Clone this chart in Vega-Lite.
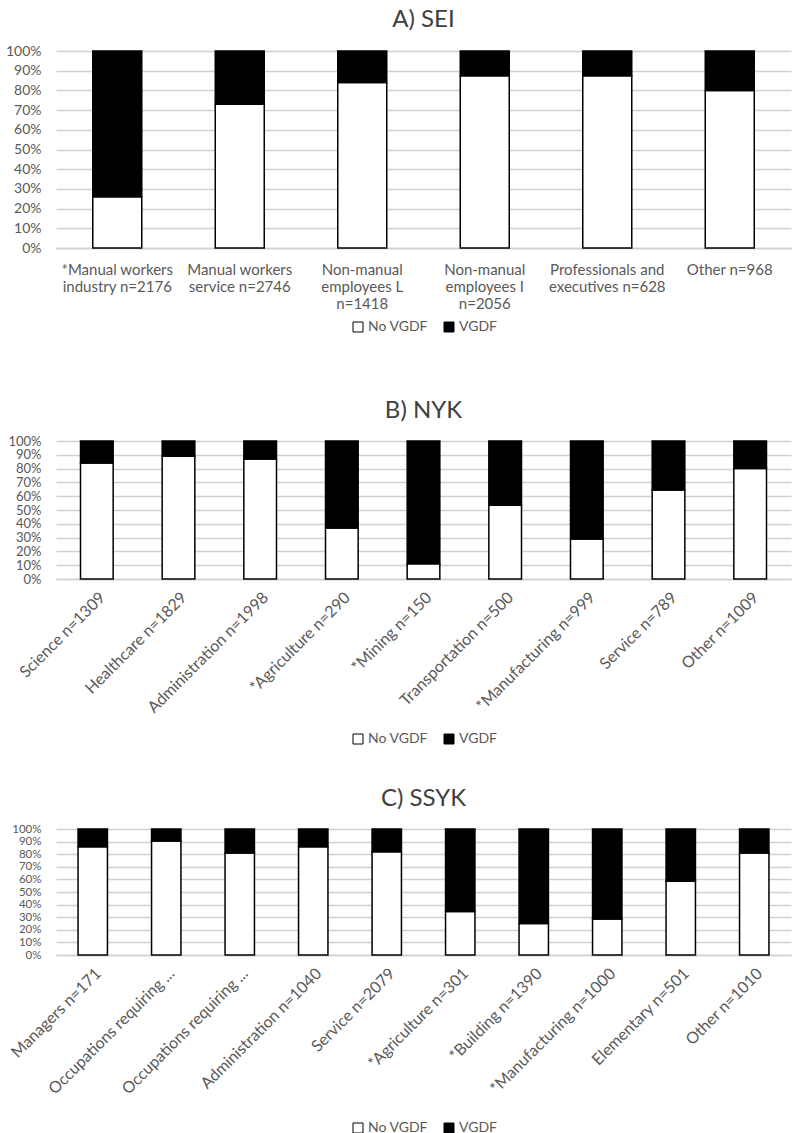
{
  "$schema": "https://vega.github.io/schema/vega-lite/v6.json",
  "background": "white",
  "padding": {"left": 5, "top": 8, "right": 7, "bottom": 3},
  "config": {
    "font": "Lato",
    "view": {"stroke": null},
    "title": {"font": "Lato", "fontSize": 24, "fontWeight": "normal", "color": "#404040", "anchor": "middle", "offset": 12},
    "axis": {"labelFont": "Lato", "labelFontSize": 14, "labelColor": "#595959", "domainColor": "#d0d0d0", "domainWidth": 1.5, "gridColor": "#d0d0d0", "gridWidth": 1.5, "ticks": false, "title": null, "labelOverlap": false},
    "legend": {"orient": "bottom", "direction": "horizontal", "title": null, "symbolType": "square", "symbolSize": 100, "symbolStrokeColor": "black", "symbolStrokeWidth": 1, "labelFont": "Lato", "labelFontSize": 14, "labelColor": "#595959", "columnPadding": 14, "labelOffset": 3, "layout": {"bottom": {"anchor": "middle"}}}
  },
  "datasets": {
    "A": [
      {"cat": "*Manual workers\nindustry n=2176", "status": "No VGDF", "share": 0.26},
      {"cat": "*Manual workers\nindustry n=2176", "status": "VGDF", "share": 0.74},
      {"cat": "Manual workers\nservice  n=2746", "status": "No VGDF", "share": 0.73},
      {"cat": "Manual workers\nservice  n=2746", "status": "VGDF", "share": 0.27},
      {"cat": "Non-manual\nemployees L\nn=1418", "status": "No VGDF", "share": 0.84},
      {"cat": "Non-manual\nemployees L\nn=1418", "status": "VGDF", "share": 0.16},
      {"cat": "Non-manual\nemployees I\nn=2056", "status": "No VGDF", "share": 0.875},
      {"cat": "Non-manual\nemployees I\nn=2056", "status": "VGDF", "share": 0.125},
      {"cat": "Professionals and\nexecutives n=628", "status": "No VGDF", "share": 0.875},
      {"cat": "Professionals and\nexecutives n=628", "status": "VGDF", "share": 0.125},
      {"cat": "Other n=968", "status": "No VGDF", "share": 0.80},
      {"cat": "Other n=968", "status": "VGDF", "share": 0.20}
    ],
    "B": [
      {"cat": "Science n=1309", "status": "No VGDF", "share": 0.84},
      {"cat": "Science n=1309", "status": "VGDF", "share": 0.16},
      {"cat": "Healthcare n=1829", "status": "No VGDF", "share": 0.89},
      {"cat": "Healthcare n=1829", "status": "VGDF", "share": 0.11},
      {"cat": "Administration n=1998", "status": "No VGDF", "share": 0.87},
      {"cat": "Administration n=1998", "status": "VGDF", "share": 0.13},
      {"cat": "*Agriculture n=290", "status": "No VGDF", "share": 0.37},
      {"cat": "*Agriculture n=290", "status": "VGDF", "share": 0.63},
      {"cat": "*Mining n=150", "status": "No VGDF", "share": 0.11},
      {"cat": "*Mining n=150", "status": "VGDF", "share": 0.89},
      {"cat": "Transportation n=500", "status": "No VGDF", "share": 0.535},
      {"cat": "Transportation n=500", "status": "VGDF", "share": 0.465},
      {"cat": "*Manufacturing n=999", "status": "No VGDF", "share": 0.29},
      {"cat": "*Manufacturing n=999", "status": "VGDF", "share": 0.71},
      {"cat": "Service n=789", "status": "No VGDF", "share": 0.645},
      {"cat": "Service n=789", "status": "VGDF", "share": 0.355},
      {"cat": "Other n=1009", "status": "No VGDF", "share": 0.80},
      {"cat": "Other n=1009", "status": "VGDF", "share": 0.20}
    ],
    "C": [
      {"cat": "Managers n=171", "status": "No VGDF", "share": 0.86},
      {"cat": "Managers n=171", "status": "VGDF", "share": 0.14},
      {"cat": "Occupations requiring advanced level of higher education", "status": "No VGDF", "share": 0.905},
      {"cat": "Occupations requiring advanced level of higher education", "status": "VGDF", "share": 0.095},
      {"cat": "Occupations requiring higher education qualifications", "status": "No VGDF", "share": 0.81},
      {"cat": "Occupations requiring higher education qualifications", "status": "VGDF", "share": 0.19},
      {"cat": "Administration n=1040", "status": "No VGDF", "share": 0.86},
      {"cat": "Administration n=1040", "status": "VGDF", "share": 0.14},
      {"cat": "Service n=2079", "status": "No VGDF", "share": 0.82},
      {"cat": "Service n=2079", "status": "VGDF", "share": 0.18},
      {"cat": "*Agriculture n=301", "status": "No VGDF", "share": 0.345},
      {"cat": "*Agriculture n=301", "status": "VGDF", "share": 0.655},
      {"cat": "*Building n=1390", "status": "No VGDF", "share": 0.25},
      {"cat": "*Building n=1390", "status": "VGDF", "share": 0.75},
      {"cat": "*Manufacturing n=1000", "status": "No VGDF", "share": 0.285},
      {"cat": "*Manufacturing n=1000", "status": "VGDF", "share": 0.715},
      {"cat": "Elementary n=501", "status": "No VGDF", "share": 0.585},
      {"cat": "Elementary n=501", "status": "VGDF", "share": 0.415},
      {"cat": "Other n=1010", "status": "No VGDF", "share": 0.81},
      {"cat": "Other n=1010", "status": "VGDF", "share": 0.19}
    ]
  },
  "bounds": "flush",
  "spacing": 193,
  "resolve": {"legend": {"color": "independent"}, "scale": {"color": "independent", "x": "independent"}},
  "vconcat": [
    {
      "title": "A) SEI",
      "data": {"name": "A"},
      "width": 735,
      "height": 197,
      "mark": {"type": "bar", "stroke": "black", "strokeWidth": 1.5},
      "encoding": {
        "x": {"field": "cat", "type": "nominal", "sort": null, "scale": {"paddingInner": 0.6, "paddingOuter": 0.3},
              "axis": {"labelAngle": 0, "labelPadding": 14, "labelFontSize": 15, "labelLineHeight": 17, "labelExpr": "split(datum.label, '\\n')", "labelLimit": 200}},
        "y": {"field": "share", "type": "quantitative", "stack": "zero", "scale": {"domain": [0, 1], "nice": false},
              "axis": {"format": ".0%", "values": [0, 0.1, 0.2, 0.3, 0.4, 0.5, 0.6, 0.7, 0.8, 0.9, 1], "domain": false, "labelPadding": 15, "labelBound": false}},
        "color": {"field": "status", "type": "nominal", "scale": {"domain": ["No VGDF", "VGDF"], "range": ["white", "black"]}, "legend": {"offset": 9}},
        "order": {"field": "status", "sort": "ascending"}
      }
    },
    {
      "bounds": "flush",
      "spacing": 250,
      "resolve": {"legend": {"color": "independent"}, "scale": {"color": "independent", "x": "independent"}},
      "vconcat": [
        {
          "title": "B) NYK",
          "data": {"name": "B"},
          "width": 735,
          "height": 138,
          "mark": {"type": "bar", "stroke": "black", "strokeWidth": 1.5},
          "encoding": {
            "x": {"field": "cat", "type": "nominal", "sort": null, "scale": {"paddingInner": 0.6, "paddingOuter": 0.3},
                  "axis": {"labelAngle": -45, "labelPadding": 10, "labelFontSize": 16, "labelLimit": 250}},
            "y": {"field": "share", "type": "quantitative", "stack": "zero", "scale": {"domain": [0, 1], "nice": false},
                  "axis": {"format": ".0%", "values": [0, 0.1, 0.2, 0.3, 0.4, 0.5, 0.6, 0.7, 0.8, 0.9, 1], "domain": false, "labelPadding": 15, "labelBound": false, "labelFontSize": 13}},
            "color": {"field": "status", "type": "nominal", "scale": {"domain": ["No VGDF", "VGDF"], "range": ["white", "black"]}, "legend": {"offset": 16}},
            "order": {"field": "status", "sort": "ascending"}
          }
        },
        {
          "title": "C) SSYK",
          "data": {"name": "C"},
          "width": 735,
          "height": 126,
          "mark": {"type": "bar", "stroke": "black", "strokeWidth": 1.5},
          "encoding": {
            "x": {"field": "cat", "type": "nominal", "sort": null, "scale": {"paddingInner": 0.6, "paddingOuter": 0.3},
                  "axis": {"labelAngle": -45, "labelPadding": 10, "labelFontSize": 16, "labelLimit": 250, "labelExpr": "indexof(datum.label, 'Occupations requiring') == 0 ? 'Occupations requiring ...' : datum.label"}},
            "y": {"field": "share", "type": "quantitative", "stack": "zero", "scale": {"domain": [0, 1], "nice": false},
                  "axis": {"format": ".0%", "values": [0, 0.1, 0.2, 0.3, 0.4, 0.5, 0.6, 0.7, 0.8, 0.9, 1], "domain": false, "labelPadding": 15, "labelBound": false, "labelFontSize": 11.5}},
            "color": {"field": "status", "type": "nominal", "scale": {"domain": ["No VGDF", "VGDF"], "range": ["white", "black"]}, "legend": {"offset": 24}},
            "order": {"field": "status", "sort": "ascending"}
          }
        }
      ]
    }
  ]
}
